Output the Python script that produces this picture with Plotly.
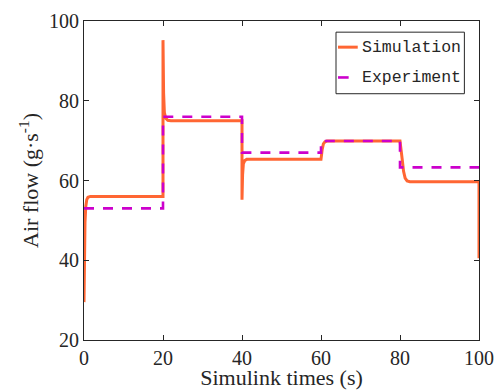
import plotly.graph_objects as go

# Simulated air flow (g/s) versus time (s)
sim_t = [0, 0.1, 0.25, 0.45, 0.7, 1.0, 1.6, 20, 20, 20.15, 20.35, 20.7, 21.2, 22,
         40, 40, 40.15, 40.35, 40.7, 41.2, 60, 60.3, 60.6, 61.0, 61.5,
         80, 80.3, 80.6, 80.9, 81.3, 81.8, 82.5, 100, 100]
sim_y = [29.5, 42.0, 49.5, 53.5, 55.2, 55.8, 56.0, 56.0, 95.2, 82.0, 77.0, 75.6, 75.1, 75.0,
         75.0, 55.2, 61.5, 64.2, 65.0, 65.3, 65.3, 67.8, 69.2, 69.7, 69.9,
         69.9, 68.0, 65.0, 62.3, 60.6, 59.9, 59.7, 59.7, 40.5]

# Measured air flow (g/s), stepwise
exp_t = [0, 20, 20, 40, 40, 60, 60, 80, 80, 100]
exp_y = [53.0, 53.0, 76.0, 76.0, 67.0, 67.0, 69.9, 69.9, 63.3, 63.3]

x_ticks = [0, 20, 40, 60, 80, 100]
y_ticks = [20, 40, 60, 80, 100]

SIM_COLOR = "#FF6633"
EXP_COLOR = "#CC00CC"
AXIS_COLOR = "#262626"
SERIF = "Liberation Serif, Times New Roman, serif"
MONO = "Liberation Mono, DejaVu Sans Mono, monospace"

fig = go.Figure()
fig.add_trace(go.Scatter(x=sim_t, y=sim_y, mode="lines", name="Simulation",
                         line=dict(color=SIM_COLOR, width=3), showlegend=False))
fig.add_trace(go.Scatter(x=exp_t, y=exp_y, mode="lines", name="Experiment",
                         line=dict(color=EXP_COLOR, width=2.6, dash="10px,9px"),
                         showlegend=False))

axis_common = dict(
    showline=True, linecolor=AXIS_COLOR, linewidth=1, mirror="ticks",
    ticks="inside", ticklen=5, tickcolor=AXIS_COLOR, tickwidth=1,
    showgrid=False, zeroline=False, automargin=False,
    tickfont=dict(family=SERIF, size=20, color=AXIS_COLOR),
)

fig.update_xaxes(range=[0, 100], tickvals=x_ticks, **axis_common,
                 title=dict(text="Simulink times (s)", standoff=5,
                            font=dict(family=SERIF, size=22, color=AXIS_COLOR)))
fig.update_yaxes(range=[20, 100], tickvals=y_ticks, **axis_common,
                 title=dict(text="Air flow (g·s<sup>-1</sup>)", standoff=4,
                            font=dict(family=SERIF, size=22, color=AXIS_COLOR)))

# Legend box drawn in paper coordinates
fig.add_shape(type="rect", xref="paper", yref="paper",
              x0=0.638, x1=0.963, y0=0.772, y1=0.965,
              line=dict(color=AXIS_COLOR, width=1), fillcolor="white", layer="above")
fig.add_shape(type="line", xref="paper", yref="paper",
              x0=0.643, x1=0.693, y0=0.918, y1=0.918,
              line=dict(color=SIM_COLOR, width=3), layer="above")
fig.add_shape(type="line", xref="paper", yref="paper",
              x0=0.643, x1=0.670, y0=0.823, y1=0.823,
              line=dict(color=EXP_COLOR, width=2.6), layer="above")
fig.add_annotation(xref="paper", yref="paper", x=0.699, y=0.918, text="Simulation",
                   showarrow=False, xanchor="left", yanchor="middle",
                   font=dict(family=MONO, size=16.5, color=AXIS_COLOR))
fig.add_annotation(xref="paper", yref="paper", x=0.699, y=0.823, text="Experiment",
                   showarrow=False, xanchor="left", yanchor="middle",
                   font=dict(family=MONO, size=16.5, color=AXIS_COLOR))

fig.update_layout(
    width=495, height=390,
    margin=dict(l=84, r=16, t=21, b=50),
    paper_bgcolor="white", plot_bgcolor="white",
)

fig.write_html("out.html")
